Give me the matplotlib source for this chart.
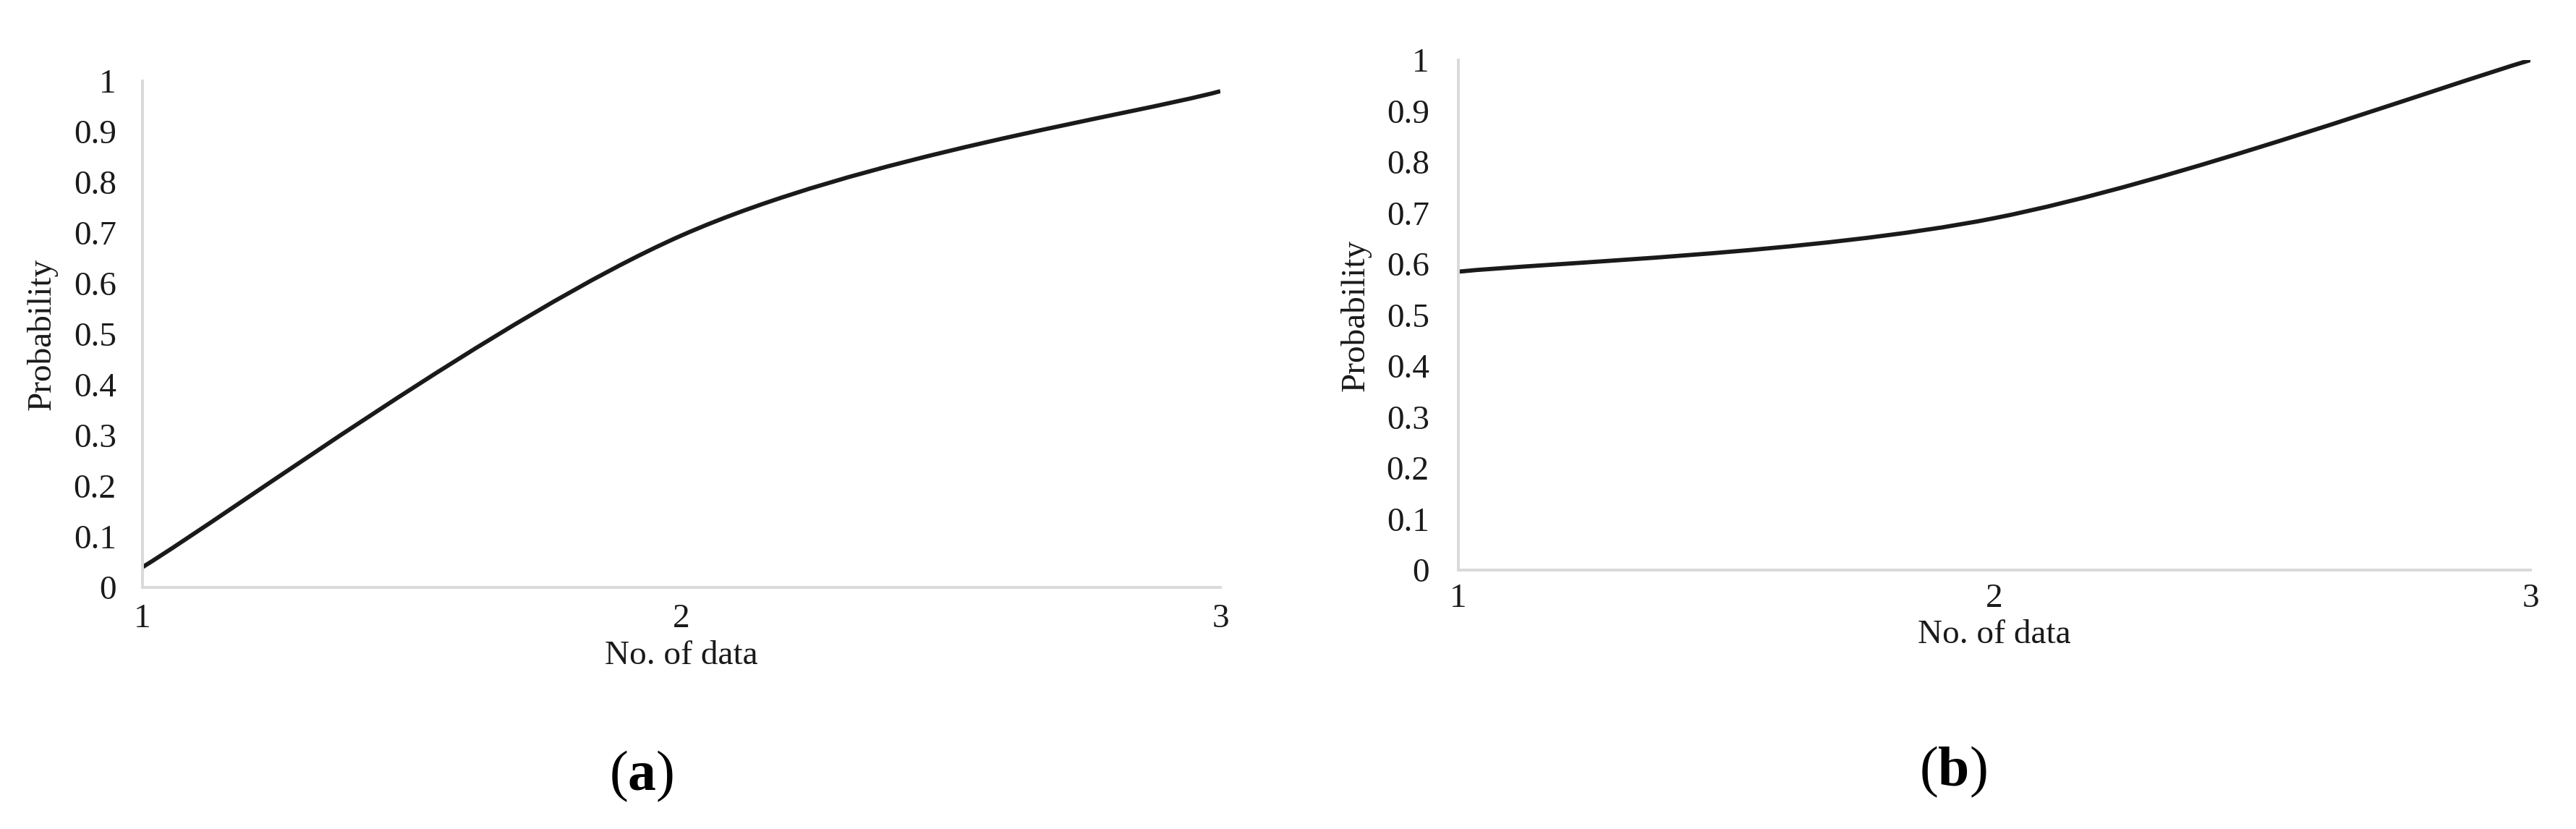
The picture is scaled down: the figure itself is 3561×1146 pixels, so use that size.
import matplotlib
matplotlib.use('Agg')
import matplotlib.pyplot as plt
from matplotlib.path import Path
from matplotlib.patches import PathPatch

# Data
n_data = [1, 2, 3]
prob_a = [0.04, 0.695, 0.98]
prob_b = [0.585, 0.69, 1.0]
y_ticks = [0, 0.1, 0.2, 0.3, 0.4, 0.5, 0.6, 0.7, 0.8, 0.9, 1]
y_tick_labels = ['0', '0.1', '0.2', '0.3', '0.4', '0.5', '0.6', '0.7', '0.8', '0.9', '1']

plt.rcParams['font.family'] = 'Liberation Serif'
plt.rcParams['mathtext.fontset'] = 'custom'
plt.rcParams['mathtext.rm'] = 'Liberation Serif'
plt.rcParams['mathtext.bf'] = 'Liberation Serif:bold'


def smooth_path(x, y):
    # Excel-style smoothed line: cubic Bezier through the points
    n = len(x)
    verts = [(x[0], y[0])]
    codes = [Path.MOVETO]
    for i in range(n - 1):
        xp, yp = (x[i - 1], y[i - 1]) if i > 0 else (x[i], y[i])
        xn, yn = (x[i + 2], y[i + 2]) if i + 2 < n else (x[i + 1], y[i + 1])
        c1 = (x[i] + (x[i + 1] - xp) / 6, y[i] + (y[i + 1] - yp) / 6)
        c2 = (x[i + 1] - (xn - x[i]) / 6, y[i + 1] - (yn - y[i]) / 6)
        verts += [c1, c2, (x[i + 1], y[i + 1])]
        codes += [Path.CURVE4] * 3
    return Path(verts, codes)


def style_axes(ax, values, pad_y, pad_x, ylabel_x):
    ax.add_patch(PathPatch(smooth_path(n_data, values), fill=False,
                           edgecolor='#1a1a1a', linewidth=4.2))
    ax.set_xlim(1, 3)
    ax.set_ylim(0, 1)
    ax.set_xticks(n_data)
    ax.set_xticklabels([str(v) for v in n_data])
    ax.set_yticks(y_ticks)
    ax.set_yticklabels(y_tick_labels)
    ax.tick_params(length=0, labelsize=34, colors='#1a1a1a')
    ax.tick_params(axis='y', pad=pad_y)
    ax.tick_params(axis='x', pad=pad_x)
    for side in ['top', 'right']:
        ax.spines[side].set_visible(False)
    for side in ['left', 'bottom']:
        ax.spines[side].set_color('#d9d9d9')
        ax.spines[side].set_linewidth(2.8)
    ax.set_xlabel('No. of data', fontsize=34, color='#1a1a1a', labelpad=6)
    ax.set_ylabel('Probability', fontsize=34, color='#1a1a1a')
    ax.yaxis.set_label_coords(ylabel_x, 0.5)


fig = plt.figure(figsize=(35.62, 11.46), dpi=100)

ax1 = fig.add_axes([0.0553, 0.2914, 0.4183, 0.6108])
style_axes(ax1, prob_a, 26, 16, -0.079)

ax2 = fig.add_axes([0.5660, 0.3124, 0.4161, 0.6152])
style_axes(ax2, prob_b, 29, 13, -0.081)

fig.text(887 / 3562, 1 - 1073 / 1146, r'($\mathbf{a}$)', fontsize=56,
         ha='center', va='center', color='black')
fig.text(2700 / 3562, 1 - 1067 / 1146, r'($\mathbf{b}$)', fontsize=56,
         ha='center', va='center', color='black')

fig.savefig('out.png', dpi=100, facecolor='white')
